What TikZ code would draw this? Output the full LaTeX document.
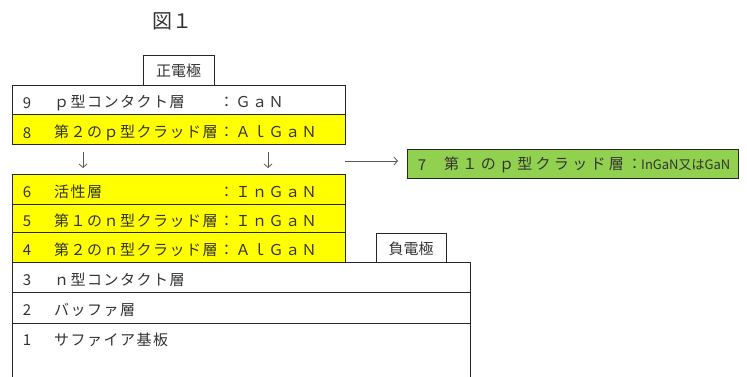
\documentclass[tikz,border=0pt]{standalone}
\usepackage{fontspec}
\setmainfont{Noto Sans CJK JP}
\newfontfamily\jpsp[LetterSpace=10]{Noto Sans CJK JP}
\newfontfamily\jpspg[LetterSpace=22]{Noto Sans CJK JP}
\usetikzlibrary{arrows.meta}
\definecolor{ylw}{HTML}{FFFF00}
\definecolor{grn}{HTML}{92D050}
\definecolor{txt}{HTML}{333333}
\tikzset{
  layer/.style={draw=black!85, line width=0.9pt, anchor=north west, inner sep=0pt, outer sep=0pt},
  lbl/.style={anchor=west, inner sep=0pt, text=txt, font=\jpsp\fontsize{15}{17}\selectfont},
  num/.style={inner sep=0pt, text=txt, font=\fontsize{15}{17}\selectfont},
  arr/.style={draw=black!65, line width=0.8pt, -{Straight Barb[length=3.5pt,width=8pt]}}
}
\begin{document}
\begin{tikzpicture}[x=1pt,y=-1pt]
\useasboundingbox (0,0) rectangle (747,376);
\begin{scope}
\clip (0,0) rectangle (747,376);
% title
\node[num, font=\fontsize{20}{22}\selectfont] (title) at (172,21) {図１};
% electrodes
\node[layer, minimum width=71pt, minimum height=30pt] (pos) at (143,55) {};
\node[num] (posl) at (178.5,71) {正電極};
\node[layer, minimum width=70pt, minimum height=29pt] (neg) at (376,233) {};
\node[num] (negl) at (411,249) {負電極};
% upper stack
\node[layer, fill=white, minimum width=333pt, minimum height=29pt] (r9) at (12,85) {};
\node[layer, fill=ylw, minimum width=333pt, minimum height=30pt] (r8) at (12,114) {};
% middle stack
\node[layer, fill=ylw, minimum width=333pt, minimum height=30pt] (r6) at (12,174) {};
\node[layer, fill=ylw, minimum width=333pt, minimum height=28pt] (r5) at (12,204) {};
\node[layer, fill=ylw, minimum width=333pt, minimum height=30pt] (r4) at (12,232) {};
% lower stack
\node[layer, fill=white, minimum width=458pt, minimum height=30pt] (r3) at (12,262) {};
\node[layer, fill=white, minimum width=458pt, minimum height=31pt] (r2) at (12,292) {};
\node[layer, fill=white, minimum width=458pt, minimum height=70pt] (r1) at (12,323) {};
% green layer
\node[layer, fill=grn, minimum width=331pt, minimum height=29pt] (r7) at (407,149) {};
% texts
\node[num] (n9) at (27,103) {9};
\node[lbl] (t9) at (54,103) {ｐ型コンタクト層　　：ＧａＮ};
\node[num] (n8) at (27,133) {8};
\node[lbl] (t8) at (54,133) {第２のｐ型クラッド層：ＡｌＧａＮ};
\node[num] (n6) at (27,192) {6};
\node[lbl] (t6) at (54,192) {活性層　　　　　　　：ＩｎＧａＮ};
\node[num] (n5) at (27,221) {5};
\node[lbl] (t5) at (54,221) {第１のｎ型クラッド層：ＩｎＧａＮ};
\node[num] (n4) at (27,250) {4};
\node[lbl] (t4) at (54,250) {第２のｎ型クラッド層：ＡｌＧａＮ};
\node[num] (n3) at (27,280) {3};
\node[lbl] (t3) at (54,280) {ｎ型コンタクト層};
\node[num] (n2) at (27,310) {2};
\node[lbl] (t2) at (54,310) {バッファ層};
\node[num] (n1) at (27,340) {1};
\node[lbl] (t1) at (54,340) {サファイア基板};
\node[num] (n7) at (422,165) {7};
\node[lbl, font=\jpspg\fontsize{15}{17}\selectfont] (t7) at (444,165) {第１のｐ型クラッド層：};
\node[lbl, font=\fontsize{13}{15}\selectfont] (t7b) at (641,165) {InGaN又はGaN};
% arrows
\coordinate (a1s) at (83,152);
\coordinate (a1e) at (83,168);
\coordinate (a2s) at (268,152);
\coordinate (a2e) at (268,168);
\coordinate (a3s) at (345,161);
\coordinate (a3e) at (398,161);
\draw[arr] (a1s) -- (a1e);
\draw[arr] (a2s) -- (a2e);
\draw[arr] (a3s) -- (a3e);
\end{scope}
\end{tikzpicture}
\end{document}
